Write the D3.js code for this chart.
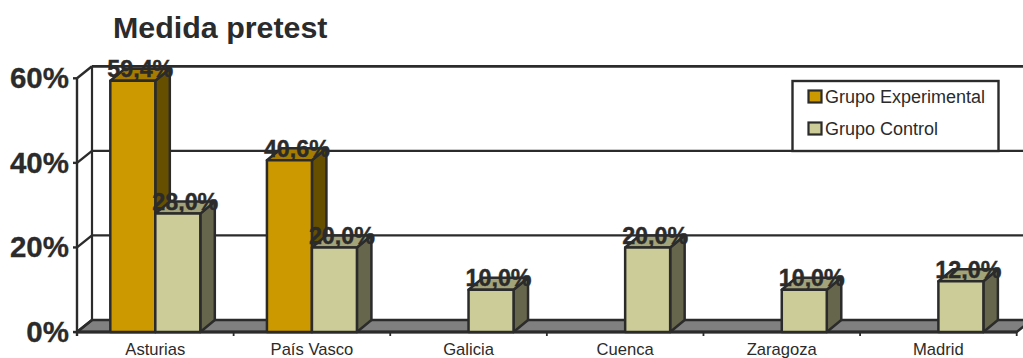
<!DOCTYPE html>
<html>
<head>
<meta charset="utf-8">
<script src="https://cdn.jsdelivr.net/npm/d3@7/dist/d3.min.js"></script>
<style>
html,body{margin:0;padding:0;background:#fff;overflow:hidden}
text{font-family:"Liberation Sans",Arial,sans-serif;fill:#2b2b2b}
</style>
</head>
<body>
<svg id="chart" width="1023" height="358"></svg>
<script>
const regions = ["Asturias", "País Vasco", "Galicia", "Cuenca", "Zaragoza", "Madrid"];
const experimental = [59.4, 40.6, null, null, null, null];
const control = [28.0, 20.0, 10.0, 20.0, 10.0, 12.0];
const yTicks = [0, 20, 40, 60];
const seriesNames = ["Grupo Experimental", "Grupo Control"];
const seriesFill = [
  {front: "#cc9900", side: "#665000", top: "#a67c00"},
  {front: "#cccc99", side: "#66664d", top: "#a3a37a"}
];

const ink = "#2b2b2b";
const svg = d3.select("#chart");
const x = d3.scaleBand().domain(regions).range([77, 1016.7]);
const y = d3.scaleLinear().domain([0, 60]).range([332, 78.3]);
const inner = d3.scaleBand().domain([0, 1]).range([0, 90]);
const wallDx = 15, wallDy = -12;
const barDx = 14.5, barDy = -12;
const path = pts => "M" + pts.map(p => p.join(",")).join("L") + "Z";

// Floor of the 3D plot
svg.append("path")
  .attr("d", path([[x.range()[0], y(0)], [x.range()[0] + wallDx, y(0) + wallDy],
                   [x.range()[1] + wallDx, y(0) + wallDy], [x.range()[1], y(0)]]))
  .attr("fill", "#808080").attr("stroke", ink).attr("stroke-width", 2.6);

// Gridlines on the back wall, with the diagonal joining them to the axis
const grid = svg.append("g").attr("fill", "none").attr("stroke", ink);
yTicks.forEach(t => {
  grid.append("line")
    .attr("x1", x.range()[0] + wallDx).attr("x2", 1040)
    .attr("y1", y(t) + wallDy).attr("y2", y(t) + wallDy)
    .attr("stroke-width", t === 60 ? 2.8 : 2.2);
  grid.append("line")
    .attr("x1", x.range()[0]).attr("x2", x.range()[0] + wallDx)
    .attr("y1", y(t)).attr("y2", y(t) + wallDy).attr("stroke-width", 2.4);
  grid.append("line")
    .attr("x1", x.range()[0] - 4).attr("x2", x.range()[0])
    .attr("y1", y(t)).attr("y2", y(t)).attr("stroke-width", 2.4);
});
grid.append("line")
  .attr("x1", x.range()[0] + wallDx).attr("x2", x.range()[0] + wallDx)
  .attr("y1", y(60) + wallDy).attr("y2", y(0) + wallDy).attr("stroke-width", 2.2);
grid.append("line")
  .attr("x1", x.range()[0]).attr("x2", x.range()[0])
  .attr("y1", y(60)).attr("y2", y(0) + 4).attr("stroke-width", 2.4);
grid.append("line")
  .attr("x1", x.range()[0]).attr("x2", x.range()[1])
  .attr("y1", y(0)).attr("y2", y(0)).attr("stroke-width", 2.8);

// Category separators under the axis
d3.range(regions.length + 1).forEach(i => {
  const tx = x.range()[0] + i * x.step();
  grid.append("line").attr("x1", tx).attr("x2", tx)
    .attr("y1", y(0)).attr("y2", y(0) + 4).attr("stroke-width", 1.8);
});

// Boxes, one per region and series
const bars = [];
regions.forEach((r, i) => {
  [experimental[i], control[i]].forEach((v, s) => {
    if (v !== null) bars.push({region: r, series: s, value: v});
  });
});
const barLeft = d => x(d.region) + (x.bandwidth() - 90) / 2 + inner(d.series);
const boxes = svg.append("g").attr("stroke", ink).attr("stroke-width", 2.5).attr("stroke-linejoin", "round");
bars.forEach(d => {
  const x0 = barLeft(d), x1 = x0 + inner.bandwidth(), yt = y(d.value), yb = y(0);
  const c = seriesFill[d.series];
  boxes.append("path").attr("fill", c.side)
    .attr("d", path([[x1, yb], [x1 + barDx, yb + barDy], [x1 + barDx, yt + barDy], [x1, yt]]));
  boxes.append("path").attr("fill", c.top)
    .attr("d", path([[x0, yt], [x0 + barDx, yt + barDy], [x1 + barDx, yt + barDy], [x1, yt]]));
  boxes.append("rect").attr("fill", c.front)
    .attr("x", x0).attr("y", yt).attr("width", x1 - x0).attr("height", yb - yt);
});

// Value labels sit over the top face of each box
const fmt = v => v.toFixed(1).replace(".", ",") + "%";
svg.append("g").selectAll("text").data(bars).join("text")
  .attr("x", d => barLeft(d) + inner.bandwidth() / 2 + 7.5)
  .attr("y", d => y(d.value) - 3.5)
  .attr("text-anchor", "middle")
  .attr("font-size", 23.3).attr("font-weight", "bold")
  .attr("stroke", ink).attr("stroke-width", 0.4)
  .text(d => fmt(d.value));

// Axis labels
svg.append("g").selectAll("text").data(yTicks).join("text")
  .attr("x", 69).attr("y", d => y(d) + 10)
  .attr("text-anchor", "end").attr("font-size", 29.5).attr("font-weight", "bold")
  .attr("stroke", ink).attr("stroke-width", 0.3)
  .text(d => d + "%");
svg.append("g").selectAll("text").data(regions).join("text")
  .attr("x", d => x(d) + x.bandwidth() / 2).attr("y", 354.5)
  .attr("text-anchor", "middle").attr("font-size", 16.6)
  .text(d => d);

// Title
svg.append("text").attr("x", 113).attr("y", 38)
  .attr("font-size", 30.4).attr("font-weight", "bold").text("Medida pretest");

// Legend
const legend = svg.append("g");
legend.append("rect").attr("x", 792.5).attr("y", 81).attr("width", 206).attr("height", 70)
  .attr("fill", "#fff").attr("stroke", ink).attr("stroke-width", 2.4);
seriesNames.forEach((name, i) => {
  const ly = 96.5 + i * 32;
  legend.append("rect").attr("x", 808.5).attr("y", ly - 6).attr("width", 13).attr("height", 12)
    .attr("fill", seriesFill[i].front).attr("stroke", ink).attr("stroke-width", 2.2);
  legend.append("text").attr("x", 825).attr("y", ly + 6.5)
    .attr("font-size", 18).text(name);
});
</script>
</body>
</html>
